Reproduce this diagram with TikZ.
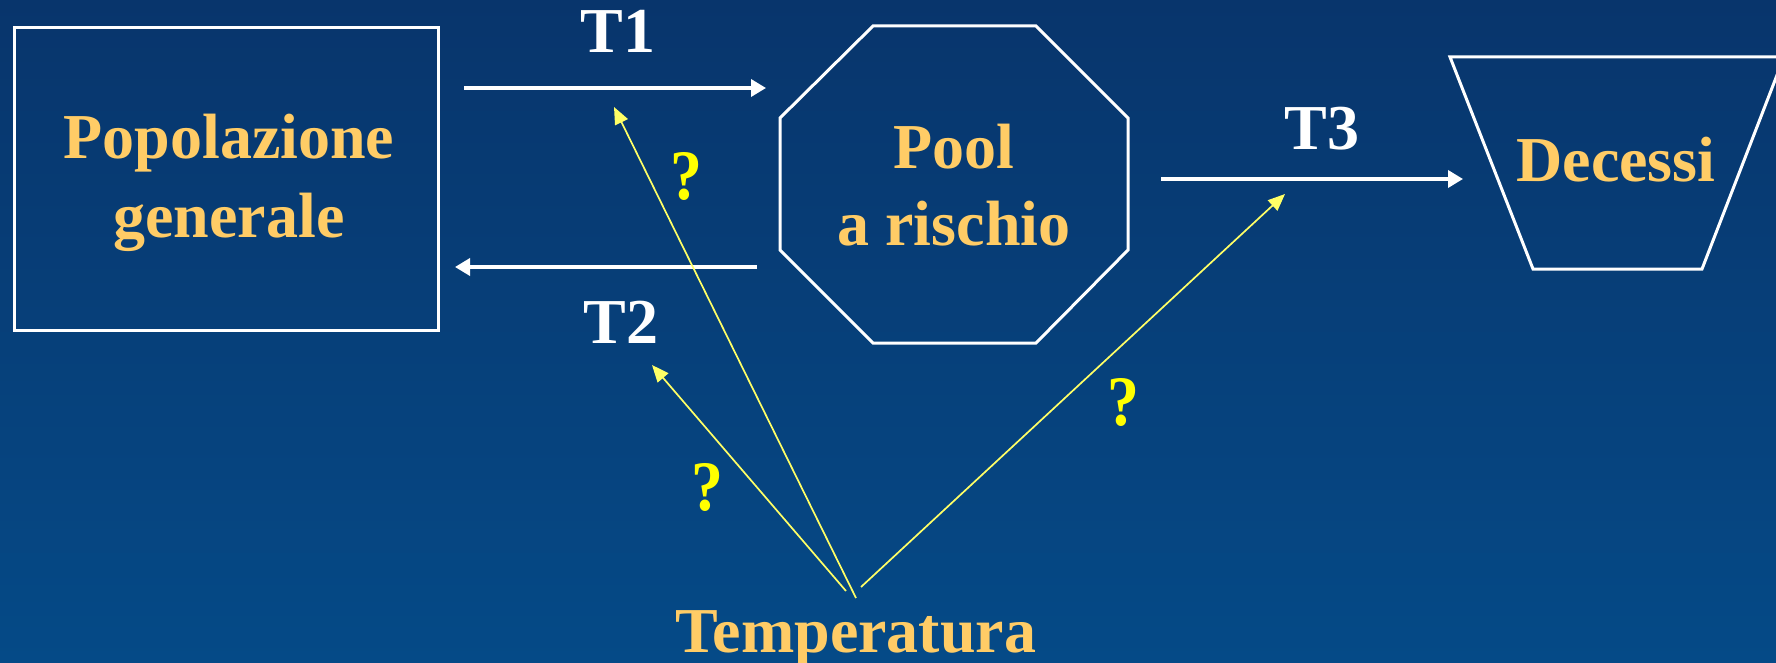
\documentclass[tikz,border=0pt]{standalone}
\usepackage{fontspec}
\setmainfont{Liberation Serif}
\usetikzlibrary{arrows.meta}
\definecolor{bgtop}{RGB}{8,53,108}
\definecolor{bgbot}{RGB}{5,74,135}
\definecolor{txtorange}{RGB}{255,204,102}
\definecolor{paleyellow}{RGB}{255,255,102}
\definecolor{qyellow}{RGB}{255,255,0}
\begin{document}
\begin{tikzpicture}[x=1pt,y=-1pt,
  shapeline/.style={draw=white, line width=3pt},
  lbl/.style={font=\fontsize{64}{64}\selectfont\bfseries, inner sep=0pt, anchor=base},
  boxtext/.style={lbl, text=txtorange},
  ttext/.style={lbl, text=white},
  qmark/.style={lbl, text=qyellow, font=\fontsize{71}{71}\selectfont\bfseries, xscale=0.9},
  flow/.style={white, line width=3.5pt, -{Triangle[length=15pt,width=17pt]}},
  influence/.style={paleyellow, line width=1.7pt, -{Triangle[length=17pt,width=14pt]}}]
\clip (0,0) rectangle (1776,663);
\shade[top color=bgtop,bottom color=bgbot] (0,0) rectangle (1776,663);
% shapes
\draw[shapeline] (14,28) rectangle (438,330);
\draw[shapeline] (873,26) -- (1036,26) -- (1128,118) -- (1128,250) -- (1036,343) -- (873,343) -- (780,250) -- (780,118) -- cycle;
\draw[shapeline] (1450,57) -- (1784,57) -- (1702,269) -- (1533,269) -- cycle;
% texts
\node[boxtext] (pg1) at (229,159) {Popolazione};
\node[boxtext] (pg2) at (229,237) {generale};
\node[boxtext] (pr1) at (954,168) {Pool};
\node[boxtext] (pr2) at (954,245) {a rischio};
\node[boxtext] (dec) at (1616,182) {Decessi};
\node[boxtext] (temp) at (856,652) {Temperatura};
\node[ttext] (t1) at (618,53) {T1};
\node[ttext] (t2) at (621,343) {T2};
\node[ttext] (t3) at (1322,150) {T3};
\node[qmark] (q1) at (686,200) {?};
\node[qmark] (q2) at (707,510) {?};
\node[qmark] (q3) at (1123,425) {?};
% flow arrows
\coordinate (a1s) at (464,88);
\coordinate (a1e) at (766,88);
\coordinate (a2s) at (757,267);
\coordinate (a2e) at (455,267);
\coordinate (a3s) at (1161,179);
\coordinate (a3e) at (1463,179);
\draw[flow] (a1s) -- (a1e);
\draw[flow] (a2s) -- (a2e);
\draw[flow] (a3s) -- (a3e);
% influence arrows
\coordinate (i1s) at (856,598);
\coordinate (i1e) at (614,107);
\coordinate (i2s) at (846,591);
\coordinate (i2e) at (652,365);
\coordinate (i3s) at (861,587);
\coordinate (i3e) at (1285,194);
\draw[influence] (i1s) -- (i1e);
\draw[influence] (i2s) -- (i2e);
\draw[influence] (i3s) -- (i3e);
\end{tikzpicture}
\end{document}
